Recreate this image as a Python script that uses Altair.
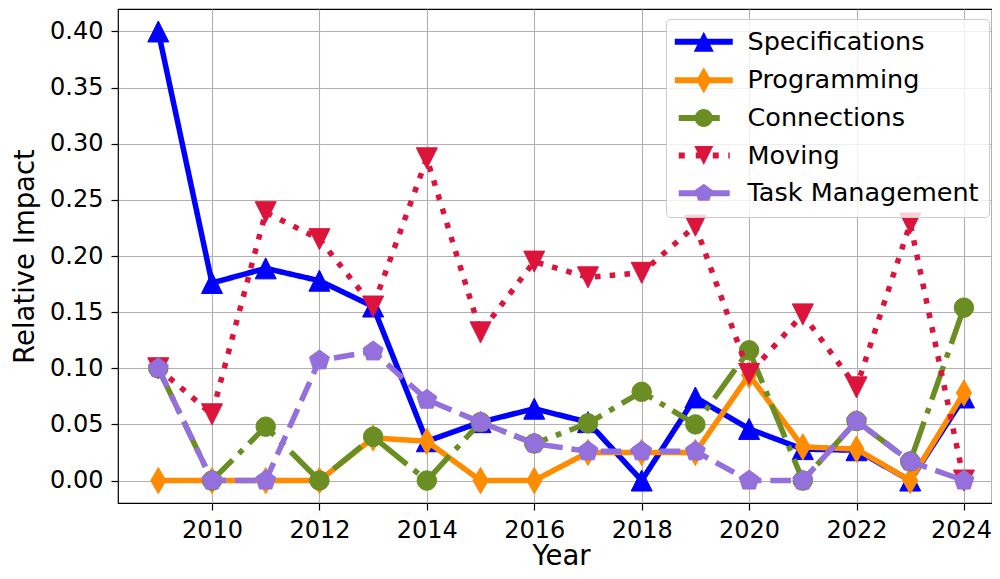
import altair as alt
import pandas as pd

years = list(range(2009, 2025))
series_names = ["Specifications", "Programming", "Connections", "Moving", "Task Management"]

specifications = [0.400, 0.176, 0.189, 0.178, 0.155, 0.035, 0.052, 0.064, 0.052, 0.000, 0.074, 0.046, 0.028, 0.027, 0.000, 0.074]
programming = [0.000, 0.000, 0.000, 0.000, 0.038, 0.035, 0.000, 0.000, 0.025, 0.025, 0.025, 0.094, 0.030, 0.028, 0.000, 0.078]
connections = [0.100, 0.000, 0.048, 0.000, 0.039, 0.000, 0.052, 0.033, 0.051, 0.079, 0.050, 0.116, 0.000, 0.053, 0.017, 0.154]
moving = [0.100, 0.059, 0.239, 0.215, 0.155, 0.287, 0.132, 0.195, 0.181, 0.185, 0.227, 0.095, 0.148, 0.083, 0.229, 0.000]
task_management = [0.100, 0.000, 0.000, 0.107, 0.115, 0.072, 0.052, 0.033, 0.026, 0.026, 0.026, 0.000, 0.000, 0.053, 0.017, 0.000]

y_ticks = [0.0, 0.05, 0.10, 0.15, 0.20, 0.25, 0.30, 0.35, 0.40]
x_ticks = [2010, 2012, 2014, 2016, 2018, 2020, 2022, 2024]

values = [specifications, programming, connections, moving, task_management]
colors = ["#0000ff", "#ff8c00", "#6b8e23", "#dc143c", "#9370db"]
dashes = [[1, 0], [1, 0], [35.6, 8.9, 5.6, 8.9], [5.6, 9.2], [20.6, 8.9]]

TRI_UP = "M0,-1 L1,1 L-1,1 Z"
TRI_DOWN = "M0,1 L-1,-1 L1,-1 Z"
THIN_DIAMOND = "M0,-1.25 L0.72,0 L0,1.25 L-0.72,0 Z"
PENTAGON = "M0,-1 L0.951,-0.309 L0.588,0.809 L-0.588,0.809 L-0.951,-0.309 Z"
marker_shapes = [TRI_UP, THIN_DIAMOND, "circle", TRI_DOWN, PENTAGON]
marker_sizes = [441, 441, 380, 441, 441]


def seg(a, b, h=0.3):
    return f"M{a},{-h} L{b},{-h} L{b},{h} L{a},{h} Z "


CIRCLE_PATH = "M-0.9,0 A0.9,0.9 0 1,1 0.9,0 A0.9,0.9 0 1,1 -0.9,0 Z"
legend_paths = [
    seg(-2.9, 2.9) + TRI_UP,
    seg(-2.9, 2.9) + "M0,-1.3 L0.75,0 L0,1.3 L-0.75,0 Z",
    seg(-2.5, 1.6) + CIRCLE_PATH,
    seg(-2.5, -1.9) + seg(-0.8, -0.2) + seg(0.9, 1.5) + seg(2.45, 2.6) + "M0,0.95 L-0.95,-0.95 L0.95,-0.95 Z",
    seg(-2.5, 2.6) + "M0,-0.95 L0.9,-0.29 L0.56,0.77 L-0.56,0.77 L-0.9,-0.29 Z",
]

rows = []
for name, vals in zip(series_names, values):
    for yr, v in zip(years, vals):
        rows.append({"series": name, "year": yr, "value": v})
df = pd.DataFrame(rows)

PX_PER_YEAR = 53.71
WIDTH = 874
HEIGHT = 494
x_domain = [2008.25, 2008.25 + WIDTH / PX_PER_YEAR]

x_enc = alt.X("year:Q", scale=alt.Scale(domain=x_domain, nice=False, zero=False),
              axis=alt.Axis(values=x_ticks, format="d", title="Year",
                            titleX=443, titleY=61, titleBaseline="alphabetic",
                            labelOffset={"condition": {"test": "datum.value === 2024", "value": -3}, "value": 0}))
y_enc = alt.Y("value:Q", scale=alt.Scale(domain=[-0.02, 0.42], nice=False, zero=False),
              axis=alt.Axis(values=y_ticks, format=".2f", title="Relative Impact", titlePadding=10))

layers = []
for i, name in enumerate(series_names):
    base = alt.Chart(df).transform_filter(alt.datum.series == name)
    line = base.mark_line(
        strokeWidth=5.5, strokeDash=dashes[i], strokeCap="butt", strokeJoin="round", color=colors[i]
    ).encode(x=x_enc, y=y_enc)
    pts = base.mark_point(
        filled=True, shape=marker_shapes[i], size=marker_sizes[i], color=colors[i],
        stroke=colors[i], strokeWidth=1, opacity=1
    ).encode(x=x_enc, y=y_enc)
    layers += [line, pts]

leg = alt.Legend(
    title=None, orient="none", legendX=548, legendY=10,
    symbolSize=400, symbolStrokeWidth=0, symbolOpacity=1, symbolOffset=15,
    labelFont="DejaVu Sans", labelFontSize=25.5, labelColor="black", labelOffset=31,
    labelLimit=500, rowPadding=10.6, padding=10,
    fillColor="rgba(255,255,255,0.8)", strokeColor="#cccccc", cornerRadius=4,
)
legend_layer = alt.Chart(df).transform_filter("false").mark_point(filled=True, opacity=1).encode(
    x=x_enc, y=y_enc,
    fill=alt.Fill("series:N", scale=alt.Scale(domain=series_names, range=colors), legend=leg),
    shape=alt.Shape("series:N", scale=alt.Scale(domain=series_names, range=legend_paths), legend=leg),
)
layers.append(legend_layer)

chart = alt.layer(*layers).properties(
    width=WIDTH, height=HEIGHT,
    padding={"left": 110, "top": 1, "right": 0, "bottom": 68},
    autosize=alt.AutoSizeParams(type="none"),
).configure_view(
    stroke="black", strokeWidth=1.2
).configure_axis(
    domain=False, grid=True, gridColor="#b0b0b0", gridWidth=1.1, gridOpacity=1,
    tickColor="black", tickSize=7, tickWidth=1.2,
    labelFont="DejaVu Sans", labelFontSize=24, labelColor="black", labelPadding=8,
    titleFont="DejaVu Sans", titleFontSize=27.5, titleFontWeight="normal", titleColor="black",
)

chart.save("out.html", embed_options={"renderer": "svg", "actions": False})
